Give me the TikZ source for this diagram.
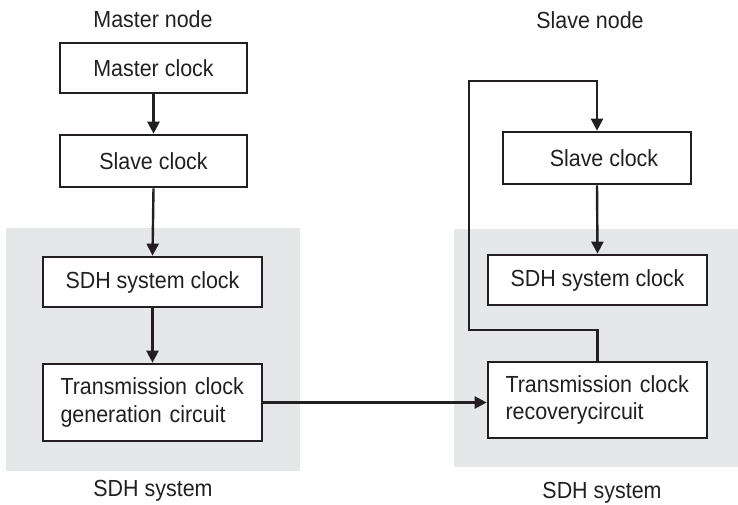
\documentclass[tikz,border=0pt]{standalone}
\usepackage{fontspec}
\setmainfont{Liberation Sans}[FakeStretch=0.92]
\usetikzlibrary{arrows.meta}
\definecolor{zone}{HTML}{E6E7E9}
\definecolor{ink}{HTML}{231F20}
\tikzset{
  blk/.style={draw=ink, line width=2.7pt, fill=white, minimum width=#1, inner sep=0pt, font=\fontsize{23.3}{27.5}\selectfont, text=ink},
  blk/.default=187pt,
  conn/.style={draw=ink, line width=2.4pt, -{Triangle[length=12pt,width=12pt]}},
  lbl/.style={font=\fontsize{23.3}{28}\selectfont, text=ink, inner sep=0pt},
}
\begin{document}
\begin{tikzpicture}[x=1pt,y=-1pt]
\useasboundingbox (0,0) rectangle (738,505);
\fill[zone] (6,228) rectangle (300,471);
\fill[zone] (454,229) rectangle (738,467);

\node[lbl] (mnode) at (153,19) {Master node};
\node[lbl] (snode) at (590,20) {Slave node};
\node[lbl] (lsys) at (153,491) {SDH system};
\node[lbl] (rsys) at (602,493) {SDH system};

\node[blk=187pt, minimum height=50pt] (mclk) at (153.5,68) {Master clock};
\node[blk=187pt, minimum height=52pt] (sclk) at (153.5,161) {Slave clock};
\node[blk=219pt, minimum height=50pt] (lsdh) at (152.5,282) {SDH system clock};
\node[blk=219pt, minimum height=77pt, align=left, text width=184pt] (ltx) at (152.5,402.5) {Transmission clock\\generation circuit};

\node[blk=188pt, minimum height=52pt] (rsclk) at (597,158) {\hspace{14pt}Slave clock};
\node[blk=219pt, minimum height=50pt] (rsdh) at (597.5,280) {SDH system clock};
\node[blk=219pt, minimum height=76pt, align=left, text width=184pt] (rtx) at (597.5,400) {Transmission clock\\recoverycircuit};

\draw[conn] (mclk.south) -- (sclk.north);
\draw[conn] (sclk.south) -- (lsdh.north);
\draw[conn] (lsdh.south) -- (ltx.north);
\draw[conn] (rsclk.south) -- (rsdh.north);
\draw[conn] (ltx.east) -- (ltx.east -| rtx.west);

\coordinate (fa) at (469,330);
\coordinate (fb) at (469,81);
\draw[conn] (rtx.north) |- (fa) -- (fb) -| (rsclk.north);
\end{tikzpicture}
\end{document}
